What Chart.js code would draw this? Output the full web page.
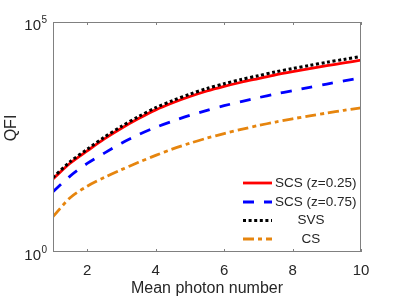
<!DOCTYPE html>
<html>
<head>
<meta charset="utf-8">
<script src="https://cdn.jsdelivr.net/npm/chart.js@4"></script>
<style>
  html, body { margin: 0; padding: 0; background: #fff; }
  #wrap { width: 399px; height: 299px; }
</style>
</head>
<body>
<div id="wrap"><canvas id="qfiChart" width="399" height="299"></canvas></div>
<script>
// ---- data ----
const photonN = [1, 1.5, 2, 2.5, 3, 3.5, 4, 4.5, 5, 5.5, 6, 6.5, 7, 7.5, 8, 8.5, 9, 9.5, 10];
const scs025 = [38.9, 85.1, 158, 288, 490, 794, 1230, 1758, 2399, 3162, 3981, 4898, 5888, 7079, 8318, 9661, 11220, 12880, 14790];
const scs075 = [20.4, 44.7, 84.1, 141, 232, 355, 513, 700, 933, 1202, 1514, 1862, 2265, 2723, 3199, 3802, 4467, 5248, 6166];
const svs = [41.7, 91.8, 171, 314, 538, 879, 1371, 1968, 2704, 3589, 4550, 5636, 6808, 8241, 9750, 11400, 13300, 15380, 17780];
const cs = [5.89, 15.1, 26.9, 41.7, 61.7, 89.1, 126, 174, 232, 299, 376, 462, 562, 668, 785, 912, 1047, 1202, 1365];

const xTicks = [2, 4, 6, 8, 10];
const yTicks = [1, 100000];
const yTickExp = ["0", "5"];
const legendLabels = ["SCS (z=0.25)", "SCS (z=0.75)", "SVS", "CS"];

const FONT = "'Liberation Sans', Arial, Helvetica, sans-serif";
const AXIS_GRAY = "#808080";
const TEXT_DARK = "#262626";

function pts(ys) {
    return photonN.map((n, i) => ({ x: n, y: ys[i] }));
}

// box, inward ticks, y labels with exponent, axis titles, legend
const decorPlugin = {
    id: "decor",
    afterDraw(chart) {
        const ctx = chart.ctx;
        const a = chart.chartArea;
        const xs = chart.scales.x, ys = chart.scales.y;
        ctx.save();

        // box
        ctx.strokeStyle = AXIS_GRAY;
        ctx.lineWidth = 1;
        ctx.strokeRect(Math.round(a.left) + 0.5, Math.round(a.top) + 0.5,
            Math.round(a.right - a.left) - 1, Math.round(a.bottom - a.top) - 1);

        // inward x ticks top and bottom
        xTicks.forEach(v => {
            const px = Math.round(xs.getPixelForValue(v)) + 0.5;
            ctx.beginPath();
            ctx.moveTo(px, a.bottom); ctx.lineTo(px, a.bottom - 3);
            ctx.moveTo(px, a.top); ctx.lineTo(px, a.top + 3);
            ctx.stroke();
        });

        // y tick labels 10^n
        ctx.fillStyle = TEXT_DARK;
        ctx.textBaseline = "alphabetic";
        yTicks.forEach((v, i) => {
            const py = ys.getPixelForValue(v);
            ctx.font = "15px " + FONT;
            ctx.textAlign = "right";
            ctx.fillText("10", 41, py + 8);
            ctx.font = "10px " + FONT;
            ctx.textAlign = "left";
            ctx.fillText(yTickExp[i], 41.5, py + 0.5);
        });

        // axis titles
        ctx.font = "16px " + FONT;
        ctx.textAlign = "center";
        ctx.textBaseline = "middle";
        ctx.fillText("Mean photon number", (a.left + a.right) / 2, 289);
        ctx.save();
        ctx.translate(12, 128);
        ctx.rotate(-Math.PI / 2);
        ctx.fillText("QFI", 0, 0);
        ctx.restore();

        // legend (no box)
        const rowY = [183, 202, 220.5, 239];
        ctx.font = "13.5px " + FONT;
        chart.data.datasets.forEach((ds, i) => {
            const y = rowY[i];
            ctx.strokeStyle = ds.borderColor;
            ctx.lineWidth = ds.borderWidth;
            ctx.setLineDash(ds.borderDash || []);
            ctx.beginPath();
            ctx.moveTo(243, y); ctx.lineTo(272, y);
            ctx.stroke();
            ctx.setLineDash([]);
            ctx.fillStyle = TEXT_DARK;
            if (i < 2) {
                ctx.textAlign = "left";
                ctx.fillText(legendLabels[i], 275, y);
            } else {
                ctx.textAlign = "center";
                ctx.fillText(legendLabels[i], 311, y);
            }
        });
        ctx.restore();
    }
};

const ctx = document.getElementById("qfiChart").getContext("2d");
const qfiChart = new Chart(ctx, {
    type: "line",
    data: {
        datasets: [
            { label: legendLabels[0], data: pts(scs025), borderColor: "#ff0000", borderWidth: 2.8, order: 2 },
            { label: legendLabels[1], data: pts(scs075), borderColor: "#0000ff", borderWidth: 2.8, borderDash: [11, 10], order: 2 },
            { label: legendLabels[2], data: pts(svs), borderColor: "#000000", borderWidth: 3, borderDash: [3, 2.6], order: 1 },
            { label: legendLabels[3], data: pts(cs), borderColor: "#e6850e", borderWidth: 2.8, borderDash: [11, 4, 4, 4], order: 2 }
        ]
    },
    options: {
        responsive: false,
        animation: false,
        events: [],
        layout: { padding: { left: 0, right: 38, top: 22, bottom: 0 } },
        elements: {
            point: { radius: 0 },
            line: { tension: 0.3, borderCapStyle: "butt", fill: false }
        },
        plugins: { legend: { display: false }, tooltip: { enabled: false } },
        scales: {
            x: {
                type: "linear",
                min: 1, max: 10,
                afterBuildTicks: s => { s.ticks = xTicks.map(v => ({ value: v })); },
                afterFit: s => { s.height = 47; },
                grid: { display: false, drawTicks: false },
                border: { display: false },
                ticks: { color: TEXT_DARK, font: { family: FONT, size: 15 }, padding: 10, maxRotation: 0 }
            },
            y: {
                type: "logarithmic",
                min: 1, max: 100000,
                afterBuildTicks: s => { s.ticks = yTicks.map(v => ({ value: v })); },
                afterFit: s => { s.width = 53; },
                grid: { display: false, drawTicks: false },
                border: { display: false },
                ticks: { display: false }
            }
        }
    },
    plugins: [decorPlugin]
});
</script>
</body>
</html>
